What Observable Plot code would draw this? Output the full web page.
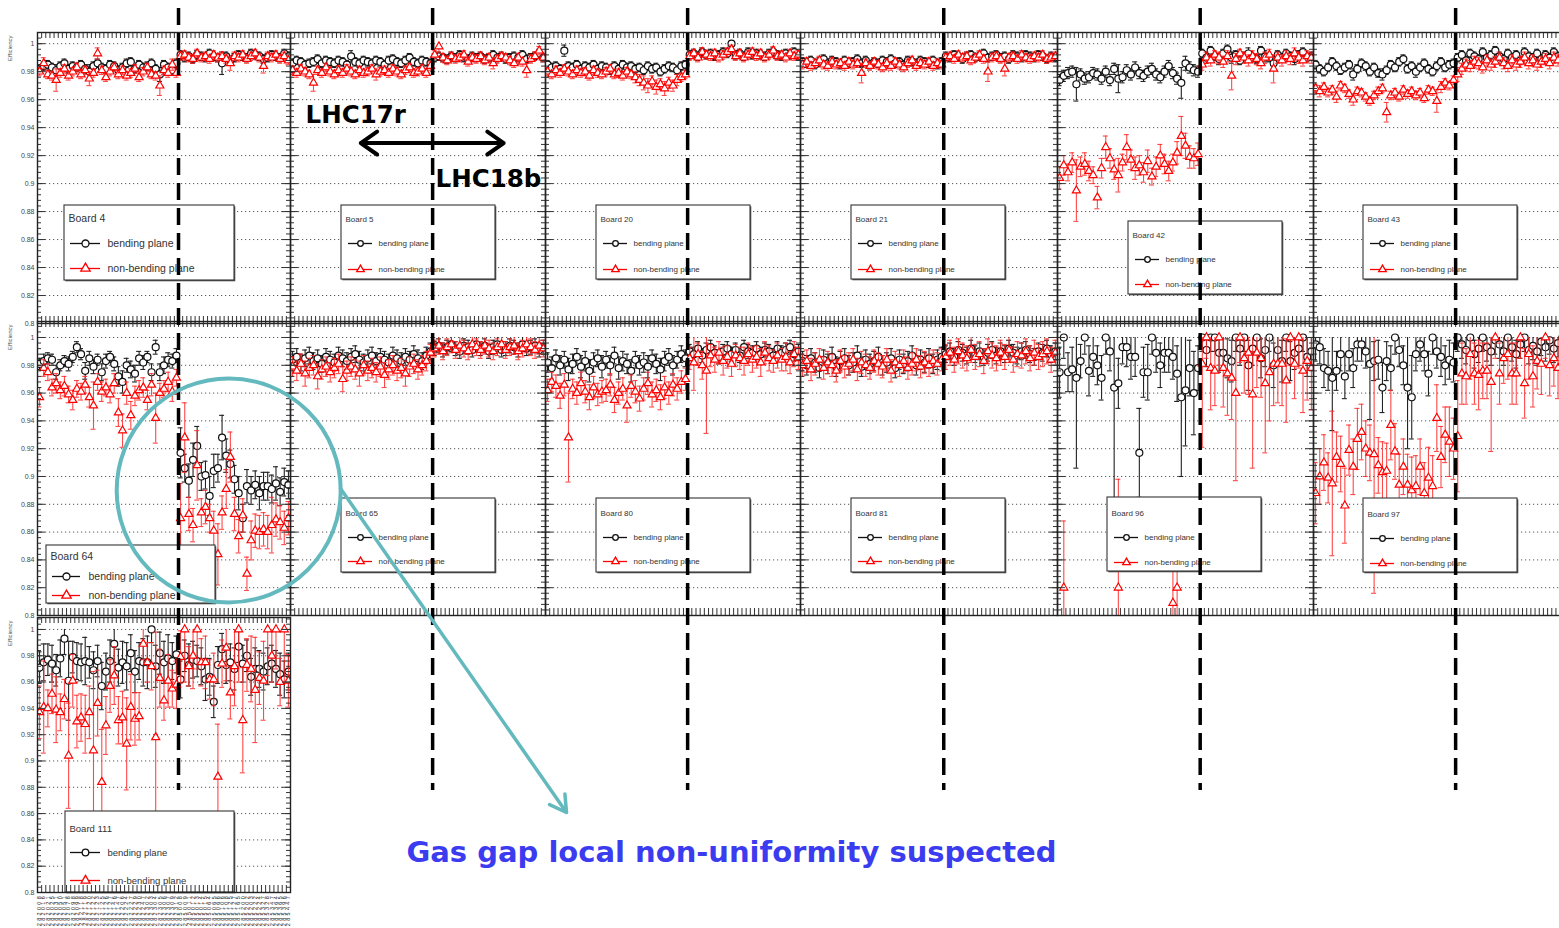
<!DOCTYPE html>
<html>
<head>
<meta charset="utf-8">
<script src="https://cdn.jsdelivr.net/npm/d3@7"></script>
<script src="https://cdn.jsdelivr.net/npm/@observablehq/plot@0.6"></script>
<style>
  html, body { margin: 0; padding: 0; background: #fff; }
  #figure { position: relative; width: 1559px; height: 928px; overflow: hidden; background: #fff; }
  g[aria-description="run-labels"] text { letter-spacing: 2.3px; }
</style>
</head>
<body>
<div id="figure"></div>
<script>
// ---------------------------------------------------------------------------
// Runs (x categories): LHC17r period followed by LHC18b period
const runs17r = ["282008","282016","282021","282025","282031","282050","282051","282078","282098","282099",
  "282118","282119","282120","282122","282123","282125","282126","282127","282146","282147",
  "282206","282224","282227","282229","282230","282247","282302","282303","282304","282305",
  "282306","282307","282309","282312"];
const runs18b = ["285008","285009","285011","285012","285013","285014","285015","285064","285065","285066",
  "285106","285108","285125","285127","285165","285200","285202","285203","285222","285224",
  "285327","285328","285347","285364","285365","285396","285447"];
const runs = runs17r.concat(runs18b);

const seriesNames = ["bending plane", "non-bending plane"];
const effTicks = [0.8, 0.82, 0.84, 0.86, 0.88, 0.9, 0.92, 0.94, 0.96, 0.98, 1];
const effTickLabels = ["0.8", "0.82", "0.84", "0.86", "0.88", "0.9", "0.92", "0.94", "0.96", "0.98", "1"];

// Efficiencies per run, in per mille (first 34 runs LHC17r, then 27 runs LHC18b); errors in per mille
const b4_bend = [982,984,985,983,981,984,986,982,984,983, 985,982,980,984,986,983,982,985,984,981, 983,986,987,982,985,983,984,986,982,978, 985,983,981,986,
  992,990,991,989,992,991,990,993,991,990, 986,991,988,990,992,991,990,993,992,991, 989,990,992,991,990,993,991];
const b4_bend_err = [3,3,3,3,4,3,3,3,3,3, 3,3,5,3,3,3,3,3,3,3, 3,3,3,3,3,3,3,3,3,5, 3,3,3,3,
  3,3,3,3,3,3,3,3,3,3, 8,3,3,3,3,3,3,3,3,3, 3,3,3,3,3,3,3];
const b4_nonb = [980,986,978,977,974,979,982,977,980,983, 978,981,975,979,993,981,976,980,983,978, 981,977,979,982,976,980,983,978,977,970, 981,979,985,979,
  991,992,990,989,993,990,991,989,992,990, 991,989,986,991,990,992,989,991,993,990, 984,991,990,992,989,991,988];
const b4_nonb_err = [3,4,3,3,8,3,3,3,3,3, 3,3,5,3,4,3,3,3,3,3, 3,3,3,3,3,3,3,3,3,7, 3,3,4,3,
  3,3,3,3,3,3,3,3,3,3, 3,3,5,3,3,3,3,3,3,3, 5,3,3,3,3,3,3];

const b5_bend = [986,988,987,985,986,987,989,986,988,987, 986,988,987,985,991,987,986,988,987,986, 988,987,985,988,989,987,986,988,990,987, 986,988,987,986,
  990,991,990,989,991,990,992,990,989,991, 990,991,989,990,992,990,991,989,990,991, 990,992,989,990,991,993,990];
const b5_bend_err = [3,3,3,3,3,3,3,3,3,3, 3,3,3,3,4,3,3,3,3,3, 3,3,3,3,3,3,3,3,3,3, 3,3,3,3,
  3,3,3,3,3,3,3,3,3,3, 3,3,3,3,3,3,3,3,3,3, 3,3,3,3,3,3,3];
const b5_nonb = [981,979,982,980,978,972,981,979,983,980, 978,981,979,982,980,978,981,979,980,982, 978,980,981,979,982,980,978,981,983,979, 980,982,979,984,
  992,998,990,988,991,989,990,992,987,990, 989,991,988,990,986,989,991,990,988,986, 990,987,981,989,991,995,990];
const b5_nonb_err = [3,3,3,3,3,6,3,3,3,3, 3,3,3,3,3,3,3,3,3,3, 4,3,3,3,3,3,3,3,3,3, 3,3,3,3,
  3,4,3,3,3,3,3,3,3,3, 3,3,3,3,4,3,3,3,3,3, 3,3,5,3,3,3,3];

const b20_bend = [985,983,984,982,995,984,983,985,982,984, 983,985,982,984,983,981,984,982,985,983, 984,982,983,981,984,982,983,980,982,984, 983,981,984,985,
  992,993,991,994,992,993,991,992,994,993, 1000,992,993,991,994,992,993,992,991,993, 994,992,991,993,992,994,991];
const b20_bend_err = [3,3,3,3,4,3,3,3,3,3, 3,3,3,3,3,3,3,3,3,3, 3,3,3,3,3,3,3,3,3,3, 3,3,3,3,
  3,3,3,3,3,3,3,3,3,3, 3,3,3,3,3,3,3,3,3,3, 3,3,3,3,3,3,3];
const b20_nonb = [980,978,981,979,982,980,978,981,979,980, 977,981,979,978,980,982,978,979,977,980, 978,976,974,972,970,973,969,971,968,972, 970,974,976,978,
  991,993,990,994,992,991,993,990,992,994, 996,991,993,990,992,994,991,993,990,992, 995,991,992,990,993,991,992];
const b20_nonb_err = [3,3,3,3,3,3,3,3,3,3, 3,3,3,3,3,3,3,3,3,3, 3,4,4,5,5,4,5,4,5,4, 4,4,3,3,
  3,3,3,3,3,3,3,3,3,3, 3,3,3,3,3,3,3,3,3,3, 3,3,3,3,3,3,3];

const b21_bend = [987,986,988,985,987,989,986,988,987,985, 988,986,987,989,986,988,985,987,986,988, 987,989,986,987,985,988,987,986,988,987, 986,988,985,987,
  991,990,992,991,989,991,992,990,991,993, 990,991,992,990,991,989,992,991,990,992, 991,990,992,991,989,991,990];
const b21_bend_err = [3,3,3,3,3,3,3,3,3,3, 3,3,3,3,3,3,3,3,3,3, 3,3,3,3,3,3,3,3,3,3, 3,3,3,3,
  3,3,3,3,3,3,3,3,3,3, 3,3,3,3,3,3,3,3,3,3, 3,3,3,3,3,3,3];
const b21_nonb = [985,987,984,986,988,985,984,987,985,986, 984,987,985,986,979,986,984,987,985,983, 986,984,987,985,983,986,988,984,986,985, 987,984,986,985,
  990,991,989,992,990,991,988,990,992,989, 980,990,991,989,982,990,991,989,992,990, 989,991,990,992,989,990,991];
const b21_nonb_err = [3,3,3,3,3,3,3,3,3,3, 3,3,3,3,7,3,3,3,3,3, 3,3,3,3,3,3,3,3,3,3, 3,3,3,3,
  3,3,3,3,3,3,3,3,3,3, 7,3,3,3,5,3,3,3,3,3, 3,3,3,3,3,3,3];

const b42_bend = [974,977,979,980,971,978,975,976,979,978, 975,980,974,982,975,976,981,978,983,979, 977,980,982,978,976,980,984,979,975,972, 986,983,981,980,
  993,990,995,991,989,993,996,990,992,988, 991,993,990,989,995,991,990,986,992,990, 993,991,989,992,994,990,991];
const b42_bend_err = [4,4,4,4,12,4,4,4,4,4, 4,4,4,4,10,4,4,4,4,4, 4,4,4,4,4,4,4,4,4,11, 5,4,4,4,
  3,4,3,3,4,3,3,4,3,3, 3,4,3,3,3,4,3,5,3,3, 3,3,4,3,3,3,3];
const b42_nonb = [904,913,908,915,895,912,914,909,906,890, 911,926,918,910,906,915,926,917,911,913, 908,916,905,912,920,914,909,915,922,934, 927,919,918,921,
  985,990,988,992,990,987,991,977,989,993, 990,988,991,989,986,990,992,982,990,988, 991,989,993,990,988,991,990];
const b42_nonb_err = [8,7,6,7,22,7,8,7,6,8, 7,8,7,7,12,6,9,7,8,7, 7,8,6,7,8,7,7,6,8,14, 9,8,7,8,
  4,4,4,3,4,4,4,10,4,3, 4,4,4,4,4,4,4,10,4,4, 4,4,4,4,4,4,4];

const b43_bend = [985,982,980,983,987,984,981,983,985,978, 982,986,984,980,983,979,978,981,985,983, 987,989,982,984,980,983,986,982,980,984, 987,983,985,986,
  990,992,988,993,991,989,994,990,992,995, 991,989,993,990,992,988,994,991,990,993, 989,992,990,994,991,990,996];
const b43_bend_err = [3,3,3,3,3,3,3,3,3,4, 3,3,3,3,3,3,4,3,3,3, 3,3,3,3,4,3,3,3,3,3, 3,3,3,3,
  3,3,3,3,3,3,3,3,3,3, 3,3,3,3,3,3,3,3,3,3, 3,3,3,3,3,3,3];
const b43_nonb = [968,966,969,965,967,962,970,968,964,960, 966,965,962,959,963,966,968,951,963,965, 962,967,964,966,963,965,961,967,966,959, 969,972,970,974,
  978,982,985,984,987,986,983,988,985,987, 990,986,984,988,985,987,990,986,988,985, 987,989,986,990,988,993,988];
const b43_nonb_err = [3,4,3,3,3,4,3,3,3,4, 3,3,3,3,3,3,3,7,3,3, 3,3,3,3,3,3,3,3,3,8, 4,3,3,3,
  5,4,4,4,4,4,4,4,4,4, 4,4,4,4,4,4,4,4,4,4, 4,4,4,4,4,4,4];

const b64_bend = [981,983,985,984,975,980,983,981,986,993, 988,976,985,979,984,975,983,986,981,972, 968,980,977,974,985,982,986,975,993,975, 980,984,983,987,
  917,906,897,912,922,900,901,886,904,906, 928,915,909,898,888,870,893,890,894,888, 893,893,891,895,889,896,894];
const b64_bend_err = [4,5,4,4,5,4,4,5,4,4, 4,6,5,5,4,6,5,4,5,7, 8,5,6,6,5,5,4,6,5,6, 6,5,5,5,
  18,10,12,12,14,10,10,14,12,10, 16,12,10,10,12,10,12,10,10,12, 10,10,10,12,10,10,10];
const b64_nonb = [957,978,975,964,967,962,965,959,955,963, 961,966,957,951,968,961,964,959,967,946, 933,960,944,958,962,964,955,966,942,960, 963,968,961,971,
  870,928,873,865,908,874,878,870,861,844, 874,891,914,873,857,872,830,854,861,860, 862,860,865,869,867,863,870];
const b64_nonb_err = [7,6,6,6,7,6,7,6,7,6, 6,6,7,17,6,7,6,6,7,10, 12,8,10,7,7,7,7,8,18,7, 6,7,7,6,
  25,25,12,12,25,10,12,10,14,22, 12,14,18,12,12,12,12,14,12,12, 12,12,20,12,12,12,12];

const b65_bend = [984,986,982,985,987,983,985,981,986,984, 982,987,985,983,986,988,984,982,985,987, 983,986,984,982,987,985,983,986,984,988, 985,983,987,990,
  992,994,991,993,995,992,990,994,993,991, 995,992,994,990,993,995,991,992,994,993, 991,995,992,993,994,991,993];
const b65_bend_err = [6,6,6,6,6,6,6,6,6,6, 6,6,6,6,6,6,6,6,6,6, 6,6,6,6,6,6,6,6,6,6, 6,6,6,6,
  5,5,5,5,5,5,5,5,5,5, 5,5,5,5,5,5,5,5,5,5, 5,5,5,5,5,5,5];
const b65_nonb = [979,976,981,974,978,980,972,977,979,975, 978,981,970,976,979,977,974,980,976,978, 975,979,973,977,980,976,978,974,979,981, 977,980,983,989,
  992,994,990,993,995,991,994,992,990,995, 993,991,994,992,990,993,995,991,993,994, 990,992,995,993,991,994,992];
const b65_nonb_err = [7,7,7,9,7,7,9,7,7,7, 7,7,9,7,7,7,9,7,7,7, 7,7,9,7,7,7,7,9,7,7, 7,7,7,6,
  6,6,6,6,6,6,6,6,6,6, 6,6,6,6,6,6,6,6,6,6, 6,6,6,6,6,6,6];

const b80_bend = [982,978,985,980,984,977,981,986,979,983, 976,982,985,979,984,980,987,978,983,981, 976,984,980,982,979,985,981,977,983,986, 980,984,988,985,
  990,988,992,987,991,993,989,986,990,992, 988,991,987,993,990,989,992,988,991,990, 987,992,989,991,993,988,990];
const b80_bend_err = [7,8,6,7,6,8,7,6,8,7, 8,7,6,8,6,7,6,8,7,7, 8,6,7,7,8,6,7,8,7,6, 7,6,6,6,
  5,5,5,5,5,5,5,5,5,5, 5,5,5,5,5,5,5,5,5,5, 5,5,5,5,5,5,5];
const b80_nonb = [962,968,965,958,966,928,963,960,967,961, 957,964,959,961,962,966,955,960,963,951, 965,961,956,963,967,959,962,957,964,960, 966,963,968,970,
  985,982,988,980,976,987,984,989,983,986, 981,987,985,983,988,984,986,982,989,985, 983,987,984,986,982,988,985];
const b80_nonb_err = [8,7,8,9,8,32,7,8,8,8, 9,8,8,8,8,8,9,8,8,12, 8,8,9,8,8,9,8,9,8,8, 8,8,8,8,
  8,20,8,10,45,8,9,8,10,8, 9,8,8,10,8,9,8,10,8,9, 8,9,8,10,8,9,8];

const b81_bend = [983,980,985,982,978,984,981,986,979,983, 985,980,982,987,979,984,981,983,986,980, 982,985,978,984,981,983,987,980,984,982, 985,981,984,986,
  988,990,986,991,989,987,992,988,990,986, 989,991,987,990,988,992,989,987,990,991, 988,986,990,989,992,988,990];
const b81_bend_err = [7,7,7,7,7,7,7,7,7,7, 7,7,7,7,7,7,7,7,7,7, 7,7,7,7,7,7,7,7,7,7, 7,7,7,7,
  6,6,6,6,6,6,6,6,6,6, 6,6,6,6,6,6,6,6,6,6, 6,6,6,6,6,6,6];
const b81_nonb = [980,983,977,981,984,978,982,980,976,983, 979,981,984,977,982,980,978,983,981,979, 984,976,982,980,983,978,981,984,979,982, 980,983,981,984,
  986,989,984,990,987,985,991,986,988,983, 990,987,985,989,986,991,984,988,987,990, 985,989,986,988,990,984,989];
const b81_nonb_err = [8,8,8,8,8,8,8,8,8,8, 8,8,8,8,8,8,8,8,8,8, 8,8,8,8,8,8,8,8,8,8, 8,8,8,8,
  9,9,9,9,9,9,9,9,9,9, 9,9,9,9,9,9,9,9,9,9, 9,9,9,9,9,9,9];

const b96_bend = [975,1000,975,977,971,983,1000,976,986,980, 971,1000,990,964,967,993,993,986,986,917, 975,975,1000,989,980,989,989,986,974,957, 962,978,960,978,
  1000,991,1000,1000,989,989,985,983,1000,992, 1000,980,992,1000,985,991,1000,980,991,983, 1000,983,989,992,1000,986,990];
const b96_bend_err = [18,15,14,16,65,12,12,18,14,14, 16,12,14,120,18,12,14,16,14,32, 18,20,12,14,16,14,14,16,20,57, 40,20,30,16,
  10,12,10,10,14,12,14,15,10,12, 10,18,12,10,14,12,10,16,12,15, 10,14,12,12,10,14,12];
const b96_nonb = [null,820,null,null,null,null,null,null,null,null, null,null,null,null,820,null,null,null,null,null, null,null,null,null,null,null,null,809,820,null, null,null,null,null,
  981,1000,978,976,1000,978,974,971,960,1000, 985,989,959,989,985,967,975,981,981,981, 969,1000,981,1000,976,983,978];
const b96_nonb_err = [0,48,0,0,0,0,0,0,0,0, 0,0,0,0,78,0,0,0,0,0, 0,0,0,0,0,0,0,30,20,0, 0,0,0,0,
  60,15,30,25,20,28,30,30,63,18, 25,30,53,25,28,50,35,30,28,30, 30,20,25,22,30,28,30];

const b97_bend = [995,993,978,976,971,976,988,972,988,978, 995,995,990,981,983,984,964,983,978,1000, 991,980,964,957,988,995,988,974,1000,990, 986,980,984,982,
  1000,995,991,1000,988,992,1000,993,990,998, 995,990,1000,993,988,995,1000,991,994,990, 997,993,998,992,996,1000,993];
const b97_bend_err = [12,12,14,14,38,14,12,16,12,14, 12,12,12,40,14,14,18,14,16,12, 12,14,44,30,12,12,12,16,12,12, 14,14,14,14,
  10,10,10,10,10,10,10,10,10,10, 10,10,10,10,10,10,10,10,10,10, 10,10,10,10,10,10,10];
const b97_nonb = [888,900,910,899,895,914,909,879,919,907, 927,932,920,917,916,908,903,904,937,918, 894,907,894,890,893,907,888,899,893,942, 914,930,925,920,
  929,974,972,988,974,973,976,976,968,1000, 974,985,988,974,974,1000,967,988,972,983, 981,1000,980,985,978,982,990];
const b97_nonb_err = [22,20,20,18,52,18,20,27,18,20, 22,20,20,20,100,20,22,20,25,20, 22,20,22,24,22,20,22,22,22,24, 22,20,25,22,
  40,22,20,18,22,25,20,20,50,15, 22,18,18,22,22,15,25,18,22,20, 22,15,22,20,22,20,18];

const b111_bend = [971,975,977,974,969,978,993,961,979,976, 975,976,975,969,976,957,968,976,989,971, 975,972,982,968,976,975,975,1000,972,982, 975,978,976,981,
  962,980,973,977,976,972,962,964,945,973, 985,973,975,970,987,974,980,964,970,970, 968,972,974,970,966,962,968];
const b111_bend_err = [12,14,12,14,12,14,12,30,12,14, 14,18,12,14,12,18,14,16,14,14, 16,18,14,16,14,18,20,10,16,16, 16,18,14,14,
  14,12,16,14,12,14,16,14,12,14, 12,14,14,16,12,14,12,14,16,14, 14,14,14,14,16,14,14];
const b111_nonb = [937,941,940,951,939,937,947,904,961,930, 933,928,937,908,944,884,927,957,965,931, 933,913,941,932,934,989,975,972,918,963, 946,961,955,958,
  979,1000,972,980,1000,975,975,962,962,888, 974,986,952,972,1000,931,973,970,954,963, 961,1000,980,1000,960,1000,961];
const b111_nonb_err = [20,35,14,15,25,14,15,40,20,20, 18,22,20,60,25,40,22,20,22,18, 20,35,25,20,18,12,15,18,80,22, 15,20,14,18,
  20,40,15,25,30,18,20,15,20,40, 18,25,20,30,40,40,20,25,40,20, 30,35,20,30,18,40,20];

// ---------------------------------------------------------------------------
// Layout of the panel grid (frame boxes in page pixels)
const FONT = "Liberation Sans, Arial, sans-serif";
const rowGeo = [
  {top: 32, height: 291, yTop: 1.008},
  {top: 321, height: 294, yTop: 1.0115},
  {top: 617, height: 275, yTop: 1.0091}
];
const colGeo = [
  {left: 37, width: 253}, {left: 290, width: 255}, {left: 545, width: 255},
  {left: 800, width: 257}, {left: 1057, width: 256}, {left: 1313, width: 255}
];

// legend boxes, in pixels from the frame's top-left corner
const bigLegend = {w: 170, h: 75, title: 13, e1: 38, e2: 63, l0: 6, l1: 36, tx: 43, font: 10.5, mr: 3.5};
const smallLegend = {w: 154, h: 74, title: 14, e1: 38, e2: 64, l0: 7, l1: 31, tx: 37, font: 8, mr: 2.8};

const panels = [
  {board: 4,  row: 0, col: 0, bend: b4_bend,  bendErr: b4_bend_err,  nonb: b4_nonb,  nonbErr: b4_nonb_err,  legend: {...bigLegend, x: 27, y: 173}},
  {board: 5,  row: 0, col: 1, bend: b5_bend,  bendErr: b5_bend_err,  nonb: b5_nonb,  nonbErr: b5_nonb_err,  legend: {...smallLegend, x: 51, y: 173}},
  {board: 20, row: 0, col: 2, bend: b20_bend, bendErr: b20_bend_err, nonb: b20_nonb, nonbErr: b20_nonb_err, legend: {...smallLegend, x: 51, y: 173}},
  {board: 21, row: 0, col: 3, bend: b21_bend, bendErr: b21_bend_err, nonb: b21_nonb, nonbErr: b21_nonb_err, legend: {...smallLegend, x: 51, y: 173}},
  {board: 42, row: 0, col: 4, bend: b42_bend, bendErr: b42_bend_err, nonb: b42_nonb, nonbErr: b42_nonb_err, legend: {...smallLegend, x: 71, y: 189, h: 73, e2: 63}},
  {board: 43, row: 0, col: 5, bend: b43_bend, bendErr: b43_bend_err, nonb: b43_nonb, nonbErr: b43_nonb_err, legend: {...smallLegend, x: 50, y: 173}},
  {board: 64, row: 1, col: 0, bend: b64_bend, bendErr: b64_bend_err, nonb: b64_nonb, nonbErr: b64_nonb_err, legend: {...bigLegend, x: 9, y: 224, w: 169, h: 58, title: 11, e1: 31, e2: 50, l1: 34, tx: 42}},
  {board: 65, row: 1, col: 1, bend: b65_bend, bendErr: b65_bend_err, nonb: b65_nonb, nonbErr: b65_nonb_err, legend: {...smallLegend, x: 51, y: 177, title: 15, e1: 39, e2: 63}},
  {board: 80, row: 1, col: 2, bend: b80_bend, bendErr: b80_bend_err, nonb: b80_nonb, nonbErr: b80_nonb_err, legend: {...smallLegend, x: 51, y: 177, title: 15, e1: 39, e2: 63}},
  {board: 81, row: 1, col: 3, bend: b81_bend, bendErr: b81_bend_err, nonb: b81_nonb, nonbErr: b81_nonb_err, legend: {...smallLegend, x: 51, y: 177, title: 15, e1: 39, e2: 63}},
  {board: 96, row: 1, col: 4, bend: b96_bend, bendErr: b96_bend_err, nonb: b96_nonb, nonbErr: b96_nonb_err, legend: {...smallLegend, x: 50, y: 176, title: 16, e1: 40, e2: 65}},
  {board: 97, row: 1, col: 5, bend: b97_bend, bendErr: b97_bend_err, nonb: b97_nonb, nonbErr: b97_nonb_err, legend: {...smallLegend, x: 50, y: 177, title: 16, e1: 40, e2: 65}},
  {board: 111, row: 2, col: 0, bend: b111_bend, bendErr: b111_bend_err, nonb: b111_nonb, nonbErr: b111_nonb_err, legend: {...bigLegend, x: 28, y: 194, w: 169, h: 81, title: 17, e1: 41, e2: 69, l0: 5, l1: 35, tx: 42, font: 9.5, mr: 3.3}, runLabels: true}
];

// annotations in data units of the panel they sit in
const periodNotes = [{label: "LHC17r", run: 3.6, eff: 0.949}, {label: "LHC18b", run: 34.7, eff: 0.903}];
const periodArrow = {eff: 0.929, from: 16.8, to: 51};
const suspectRegion = {run: 46.1, eff: 0.890, r: 112};
// callout drawn in page pixels
const callout = {x1: 340, y1: 488, x2: 566, y2: 812, tx: 731, ty: 852, text: "Gas gap local non-uniformity suspected"};
const TEAL = "#63b9bd";

// ---------------------------------------------------------------------------
const N = runs.length;
const boundary = runs17r.length;
const figure = document.getElementById("figure");

function place(svg, left, top) {
  svg.setAttribute("style", `position:absolute;left:${left}px;top:${top}px;background:transparent;overflow:visible;max-width:none;`);
  figure.appendChild(svg);
}

function geometry(row, col) {
  const g = {...colGeo[col], ...rowGeo[row]};
  g.fx = px => px * N / g.width;                               // frame pixels → run units
  g.fy = py => g.yTop - py * (g.yTop - 0.8) / g.height;        // frame pixels → efficiency
  return g;
}

function plotIn(g, marks, height) {
  return Plot.plot({
    width: g.width, height: height ?? g.height, margin: 0,
    x: {domain: [0, N], range: [0, g.width], axis: null},
    y: {domain: [0.8, g.yTop], range: [g.height, 0], axis: null},
    marks
  });
}

function points(vals, errs) {
  return vals.map((v, i) => v == null ? null : {
    x: i + 0.5, y: v / 1000, lo: (v - errs[i]) / 1000, hi: Math.min(1000, v + errs[i]) / 1000
  }).filter(d => d);
}

function seriesMarks(data, color, barColor, symbol, r, cap) {
  return [
    Plot.ruleX(data, {x: "x", y1: "lo", y2: "hi", stroke: barColor, strokeWidth: 1.1, clip: true}),
    Plot.ruleY(data, {y: "lo", x1: d => d.x - cap, x2: d => d.x + cap, stroke: barColor, strokeWidth: 1.1, clip: true}),
    Plot.ruleY(data.filter(d => d.hi < 1), {y: "hi", x1: d => d.x - cap, x2: d => d.x + cap, stroke: barColor, strokeWidth: 1.1, clip: true}),
    Plot.dot(data, {x: "x", y: "y", symbol, r, stroke: color, strokeWidth: 1.2, fill: "white", clip: true})
  ];
}

function legendMarks(p, g) {
  const L = p.legend;
  const X = px => g.fx(L.x + px), Y = py => g.fy(L.y + py);
  const font = {fontFamily: FONT, fontSize: L.font, fill: "#333", textAnchor: "start"};
  const mid = (L.l0 + L.l1) / 2;
  return [
    Plot.rect([0], {x1: X(1.3), x2: X(L.w + 1.3), y1: Y(1.3), y2: Y(L.h + 1.3), fill: "#555"}),
    Plot.rect([0], {x1: X(0), x2: X(L.w), y1: Y(0), y2: Y(L.h), fill: "white", stroke: "#333", strokeWidth: 1.1}),
    Plot.text([`Board ${p.board}`], {x: X(4), y: Y(L.title), text: d => d, ...font}),
    Plot.ruleY([0], {y: Y(L.e1), x1: X(L.l0), x2: X(L.l1), stroke: "#111", strokeWidth: 1.3}),
    Plot.dot([0], {x: X(mid), y: Y(L.e1), r: L.mr, stroke: "#111", strokeWidth: 1.3, fill: "white"}),
    Plot.text([seriesNames[0]], {x: X(L.tx), y: Y(L.e1), text: d => d, ...font}),
    Plot.ruleY([0], {y: Y(L.e2), x1: X(L.l0), x2: X(L.l1), stroke: "#f00", strokeWidth: 1.3}),
    Plot.dot([0], {x: X(mid), y: Y(L.e2), r: L.mr, symbol: "triangle", stroke: "#f00", strokeWidth: 1.3, fill: "white"}),
    Plot.text([seriesNames[1]], {x: X(L.tx), y: Y(L.e2), text: d => d, ...font})
  ];
}

function drawPanel(p) {
  const g = geometry(p.row, p.col);
  const {fx, fy} = g;
  const cap = fx(2.5);
  const minor = d3.range(0, 53).map(k => 0.8 + k * 0.004);
  const edges = d3.range(0, N + 1);
  const tick = {stroke: "#333", strokeWidth: 1};
  const marks = [
    Plot.ruleY(effTicks.slice(1), {y: d => d, stroke: "#555", strokeWidth: 1, strokeDasharray: "1.2,2.8"}),
    ...seriesMarks(points(p.bend, p.bendErr), "#111", "#222", "circle", 3.5, cap),
    ...seriesMarks(points(p.nonb, p.nonbErr), "#ff0000", "rgba(255,40,40,0.85)", "triangle", 3.0, cap),
    ...legendMarks(p, g),
    // inward ticks on all four sides
    Plot.ruleY(effTicks, {y: d => d, x1: 0, x2: fx(8), ...tick}),
    Plot.ruleY(minor, {y: d => d, x1: 0, x2: fx(4), ...tick}),
    Plot.ruleY(effTicks, {y: d => d, x1: N - fx(8), x2: N, ...tick}),
    Plot.ruleY(minor, {y: d => d, x1: N - fx(4), x2: N, ...tick}),
    Plot.ruleX(edges, {x: d => d, y1: g.yTop, y2: fy(6), ...tick}),
    Plot.ruleX(edges, {x: d => d, y1: 0.8, y2: fy(g.height - 7), ...tick}),
    Plot.frame({stroke: "#222", strokeWidth: 1.4})
  ];
  if (p.col === 0) {
    marks.push(
      Plot.text(effTicks, {x: 0, y: d => d, text: (d, i) => effTickLabels[i], textAnchor: "end", dx: -3,
        fontSize: 7, fill: "#444", fontFamily: FONT}),
      Plot.text(["Efficiency"], {x: 0, y: fy(3), dx: -27, rotate: -90, textAnchor: "end",
        fontSize: 6, fill: "#555", fontFamily: FONT})
    );
  }
  if (p.runLabels) {
    marks.push(Plot.text(runs, {x: (d, i) => i + 0.5, y: 0.8, dy: 1.5, rotate: -90, textAnchor: "end",
      fontSize: 5.5, fill: "#222", fontFamily: FONT, ariaDescription: "run-labels"}));
  }
  const svg = plotIn(g, marks);
  // widely spaced run numbers under the last panel
  svg.querySelectorAll('g[aria-description="run-labels"] text').forEach(t => t.style.letterSpacing = "2.3px");
  place(svg, g.left, g.top);
}

panels.forEach(drawPanel);

// period boundary (last LHC17r run | first LHC18b run), one dashed line per column
colGeo.forEach((c, col) => {
  const g = geometry(0, col);
  const svg = Plot.plot({
    width: g.width, height: 782, margin: 0,
    x: {domain: [0, N], range: [0, g.width], axis: null},
    marks: [Plot.ruleX([boundary], {stroke: "#000", strokeWidth: 3.5, strokeDasharray: "17,8"})]
  });
  place(svg, g.left, 8);
});

// period labels over Board 5
{
  const g = geometry(0, 1);
  const bold = {fontFamily: "DejaVu Sans, Verdana, sans-serif", fontWeight: "bold", fontSize: 24.5, fill: "#000", textAnchor: "start"};
  const svg = plotIn(g, [
    Plot.text(periodNotes, {x: "run", y: "eff", text: "label", ...bold}),
    Plot.arrow([periodArrow], {x1: boundary, x2: "from", y1: "eff", y2: "eff", stroke: "#000", strokeWidth: 4, headLength: 7.5, headAngle: 70}),
    Plot.arrow([periodArrow], {x1: boundary, x2: "to", y1: "eff", y2: "eff", stroke: "#000", strokeWidth: 4, headLength: 7.5, headAngle: 70})
  ]);
  place(svg, g.left, g.top);
}

// highlighted region of Board 64
{
  const g = geometry(1, 0);
  const svg = plotIn(g, [
    Plot.dot([suspectRegion], {x: "run", y: "eff", r: suspectRegion.r, stroke: TEAL, strokeWidth: 4, fill: "none"})
  ]);
  place(svg, g.left, g.top);
}

// callout arrow and text
{
  const svg = Plot.plot({
    width: 1559, height: 928, margin: 0,
    x: {type: "identity", axis: null}, y: {type: "identity", axis: null},
    marks: [
      Plot.arrow([callout], {x1: "x1", y1: "y1", x2: "x2", y2: "y2", stroke: TEAL, strokeWidth: 3.5, headLength: 8, headAngle: 60}),
      Plot.text([callout], {x: "tx", y: "ty", text: "text", fontFamily: "DejaVu Sans, Verdana, sans-serif",
        fontWeight: "bold", fontSize: 29, fill: "#3b3bef"})
    ]
  });
  place(svg, 0, 0);
}
</script>
</body>
</html>
